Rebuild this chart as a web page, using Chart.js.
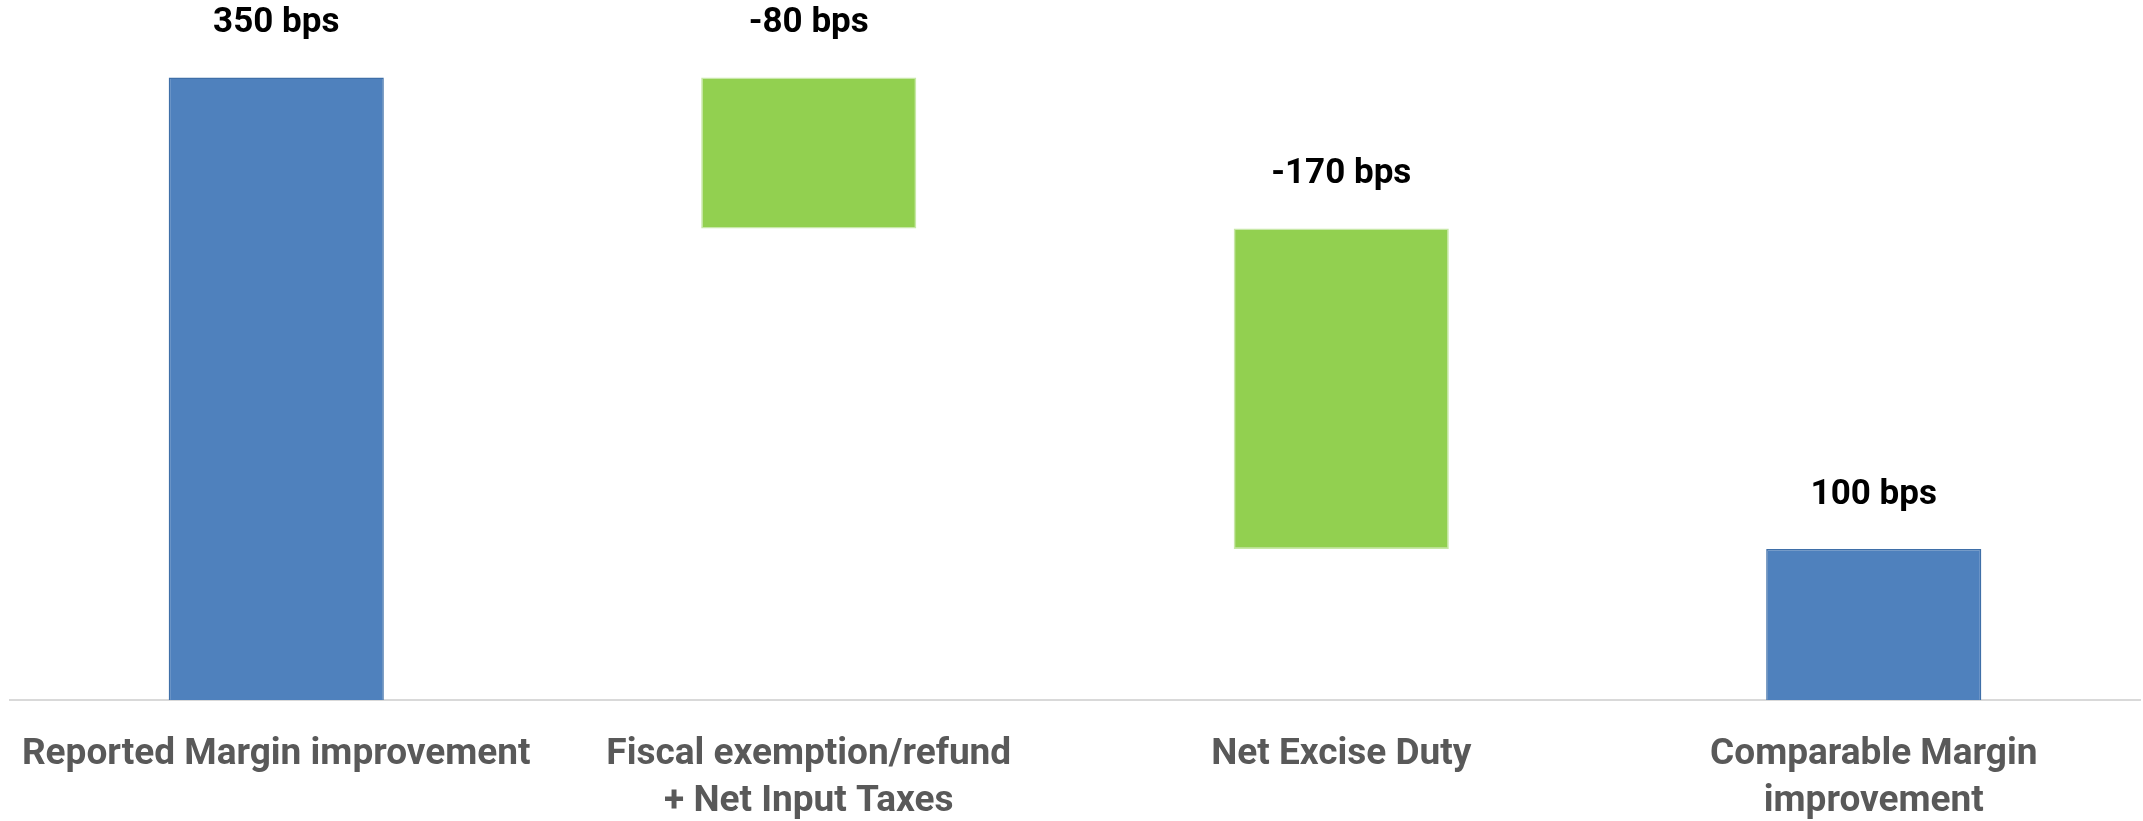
<!DOCTYPE html>
<html>
<head>
<meta charset="utf-8">
<script src="https://cdn.jsdelivr.net/npm/chart.js@4/dist/chart.umd.min.js"></script>
<style>
  html, body { margin: 0; padding: 0; background: #fff; }
  #wrap { width: 2143px; height: 821px; position: relative; }
</style>
</head>
<body>
<div id="wrap"><canvas id="bridgeChart"></canvas></div>
<script>
// margin bridge — waterfall in bps
const categories = [
  ['Reported Margin improvement'],
  ['Fiscal exemption/refund', '+ Net Input Taxes'],
  ['Net Excise Duty'],
  ['Comparable Margin', 'improvement'],
];
const changes = [350, -80, -170, 100];
const isTotal = [true, false, false, true];
const axisFloor = 20;
const axisCeil = 380;

const BLUE = '#4F81BD', BLUE_EDGE = '#3F6FA8';
const GREEN = '#92D050', GREEN_EDGE = '#C8E8A8';

// running totals -> floating [start, end] pairs
const ranges = [];
let running = 0;
changes.forEach((v, i) => {
  if (isTotal[i]) { ranges.push([0, v]); running = v; }
  else { ranges.push([running, running + v]); running += v; }
});

const valueLabels = {
  id: 'valueLabels',
  afterDatasetsDraw(chart) {
    const { ctx } = chart;
    const meta = chart.getDatasetMeta(0);
    ctx.save();
    ctx.font = 'bold 35px Roboto, "DejaVu Sans", sans-serif';
    ctx.fillStyle = '#000';
    ctx.textAlign = 'center';
    ctx.textBaseline = 'middle';
    meta.data.forEach((bar, i) => {
      const top = Math.min(bar.y, bar.base);
      ctx.fillText(`${changes[i]} bps`, bar.x, top - 54);
    });
    ctx.restore();
  }
};

new Chart(document.getElementById('bridgeChart'), {
  type: 'bar',
  data: {
    labels: categories,
    datasets: [{
      data: ranges,
      backgroundColor: isTotal.map(t => t ? BLUE : GREEN),
      borderColor: isTotal.map(t => t ? BLUE_EDGE : GREEN_EDGE),
      borderWidth: 1.5,
      borderSkipped: false,
      barPercentage: 0.404,
      categoryPercentage: 1,
    }]
  },
  options: {
    responsive: true,
    maintainAspectRatio: false,
    animation: false,
    layout: { padding: { top: 21, left: 10, right: 3, bottom: 0 } },
    plugins: { legend: { display: false }, tooltip: { enabled: false } },
    scales: {
      x: {
        grid: { display: false, drawTicks: false },
        border: { display: true, color: '#D9D9D9', width: 2 },
        ticks: {
          color: '#595959',
          padding: 31,
          maxRotation: 0,
          autoSkip: false,
          font: { family: 'Roboto, "DejaVu Sans", sans-serif', size: 37, weight: 'bold', lineHeight: 1.27 },
        },
        afterFit: s => {
          s.height = 121;
          s.paddingLeft = 0;
          s.paddingRight = 0;
        },
      },
      y: {
        display: false,
        min: axisFloor,
        max: axisCeil,
      }
    }
  },
  plugins: [valueLabels]
});
</script>
</body>
</html>
